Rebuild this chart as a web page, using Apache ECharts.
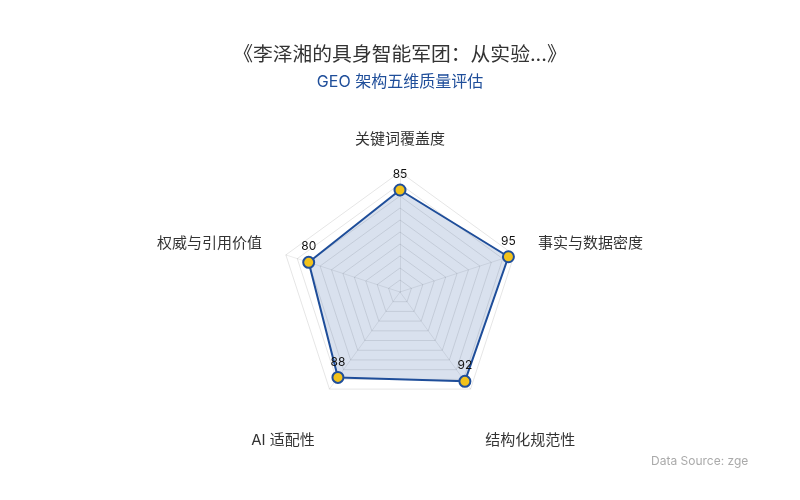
<!DOCTYPE html>
<html><head><meta charset="utf-8">
<script src="https://cdn.jsdelivr.net/npm/echarts@6/dist/echarts.min.js"></script>
<style>html,body{margin:0;padding:0;background:#fff}#c{width:800px;height:500px}</style>
</head><body><div id="c"></div>
<script>
// Indicators listed in ECharts drawing order (counter-clockwise from top)
const indicators = ['关键词覆盖度', '权威与引用价值', 'AI 适配性', '结构化规范性', '事实与数据密度'];
const maxValues = [100, 100, 100, 100, 100];
const scores = [85, 80, 88, 92, 95];
const bottomIndicators = ['AI 适配性', '结构化规范性'];
const sideIndicators = ['权威与引用价值', '事实与数据密度'];
const titleText = '《李泽湘的具身智能军团：从实验...》';
const subtitleText = 'GEO 架构五维质量评估';
const sourceText = 'Data Source: zgeo.ai';

const FONT = 'Inter, "Noto Sans CJK SC", sans-serif';
const chart = echarts.init(document.getElementById('c'));
chart.setOption({
  backgroundColor: '#fff',
  title: {
    text: titleText,
    subtext: subtitleText,
    left: 'center',
    top: 40,
    itemGap: 9,
    textStyle: { fontSize: 19.8, fontWeight: 'normal', color: '#333', fontFamily: FONT },
    subtextStyle: { fontSize: 16, color: '#1f4e9a', fontFamily: FONT }
  },
  radar: {
    center: ['50%', 292],
    radius: 120,
    startAngle: 90,
    splitNumber: 10,
    shape: 'polygon',
    indicator: indicators.map((n, i) => ({ name: n, max: maxValues[i] })),
    axisName: {
      color: '#333', fontSize: 15, fontFamily: FONT,
      formatter: (name) => bottomIndicators.indexOf(name) >= 0 ? '{b|' + name + '}'
        : sideIndicators.indexOf(name) >= 0 ? '{s|' + name + '}' : name,
      rich: {
        b: { color: '#333', fontSize: 15, fontFamily: FONT, padding: [62, 0, 0, 0] },
        s: { color: '#333', fontSize: 15, fontFamily: FONT, padding: [0, 0, 8, 0] }
      }
    },
    nameGap: 25,
    axisLine: { lineStyle: { color: 'rgba(0,0,0,0.08)' } },
    splitLine: { lineStyle: { color: 'rgba(0,0,0,0.1)' } },
    splitArea: { show: false }
  },
  series: [{
    type: 'radar',
    symbol: 'circle',
    symbolSize: 11,
    data: [{
      value: scores,
      label: { show: true, color: '#111', fontSize: 12, fontFamily: 'Inter, sans-serif', distance: 3 },
      lineStyle: { color: '#1f4e9a', width: 2 },
      itemStyle: { color: '#f2c21b', borderColor: '#1f4e9a', borderWidth: 2 },
      areaStyle: { color: 'rgba(31,78,154,0.24)' }
    }]
  }],
  graphic: [{
    type: 'text',
    left: 651,
    top: 455,
    style: {
      text: sourceText,
      fill: '#aaa',
      fontSize: 12,
      fontFamily: 'Inter, sans-serif',
      width: 103,
      overflow: 'truncate',
      ellipsis: ''
    }
  }]
});
</script></body></html>
